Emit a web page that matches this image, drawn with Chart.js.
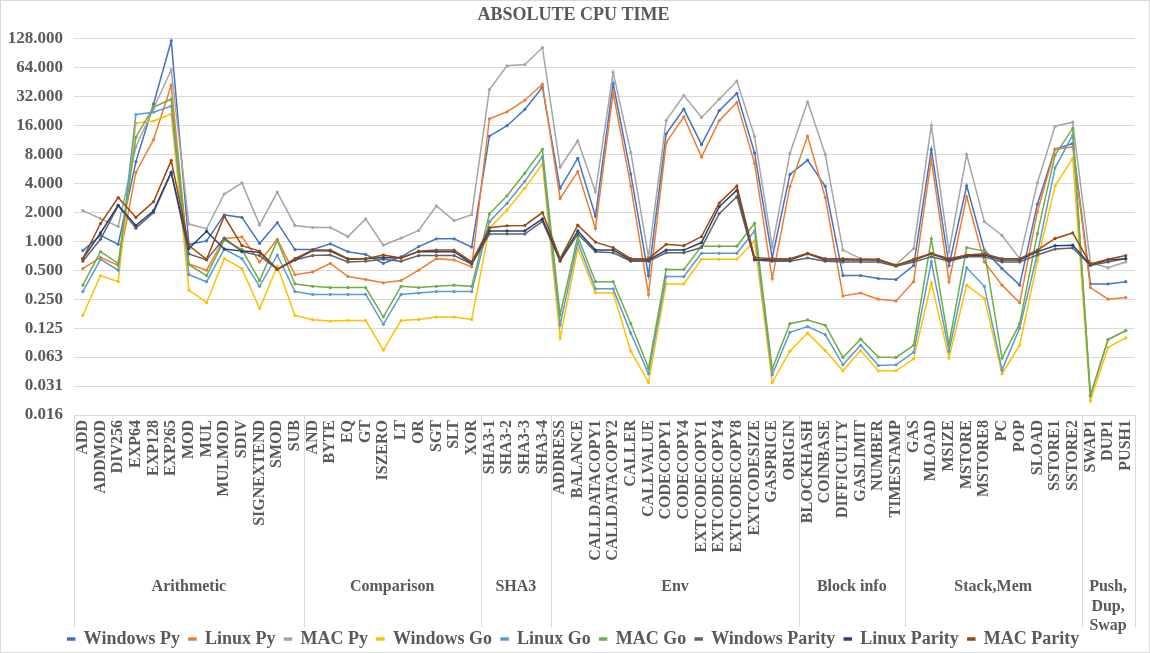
<!DOCTYPE html>
<html><head><meta charset="utf-8">
<script src="https://cdn.jsdelivr.net/npm/chart.js@4.4.0/dist/chart.umd.min.js"></script>
<style>html,body{margin:0;padding:0;background:#fff}#wrap{width:1150px;height:653px;position:relative}</style>
</head><body><div id="wrap"><canvas id="c"></canvas></div>
<script>
const categories = ['ADD','ADDMOD','DIV256','EXP64','EXP128','EXP265','MOD','MUL','MULMOD','SDIV','SIGNEXTEND','SMOD','SUB',
  'AND','BYTE','EQ','GT','ISZERO','LT','OR','SGT','SLT','XOR',
  'SHA3-1','SHA3-2','SHA3-3','SHA3-4',
  'ADDRESS','BALANCE','CALLDATACOPY1','CALLDATACOPY2','CALLER','CALLVALUE','CODECOPY1','CODECOPY4','EXTCODECOPY1','EXTCODECOPY4','EXTCODECOPY8','EXTCODESIZE','GASPRICE','ORIGIN',
  'BLOCKHASH','COINBASE','DIFFICULTY','GASLIMIT','NUMBER','TIMESTAMP',
  'GAS','MLOAD','MSIZE','MSTORE','MSTORE8','PC','POP','SLOAD','SSTORE1','SSTORE2',
  'SWAP1','DUP1','PUSH1'];
const groupNames = ['Arithmetic','Comparison','SHA3','Env','Block info','Stack,Mem','Push,\nDup,\nSwap'];
const groupSizes = [13,10,4,14,6,10,3];
const yTickValues = [0.015625,0.03125,0.0625,0.125,0.25,0.5,1,2,4,8,16,32,64,128];
const yTickLabels = ['0.016','0.031','0.063','0.125','0.250','0.500','1.000','2.000','4.000','8.000','16.000','32.000','64.000','128.000'];
const seriesNames = ['Windows Py','Linux Py','MAC Py','Windows Go','Linux Go','MAC Go','Windows Parity','Linux Parity','MAC Parity'];

const windowsPy = [0.80,1.15,0.93,6.7,26.8,121,0.93,1.01,1.88,1.77,0.95,1.56,0.82,
  0.82,0.94,0.78,0.73,0.59,0.69,0.88,1.06,1.06,0.87,
  12.4,15.9,23.4,40,
  3.55,7.3,1.83,43.7,5.0,0.44,13.1,23.7,10.1,22.8,34.6,8.3,0.67,4.96,
  6.98,3.73,0.44,0.44,0.41,0.40,
  0.56,9.0,0.56,3.78,0.81,0.52,0.35,2.43,9.1,10.4,
  0.36,0.36,0.38];
const linuxPy = [0.52,0.68,0.56,5.2,11.4,42,0.58,0.50,1.07,1.11,0.61,1.05,0.45,
  0.48,0.59,0.43,0.40,0.37,0.39,0.50,0.66,0.64,0.54,
  18.8,22.2,29.3,43,
  2.79,5.3,1.36,35,3.75,0.28,10.6,19.7,7.5,17.9,27.8,6.45,0.41,3.7,
  12.4,2.85,0.27,0.29,0.25,0.24,
  0.38,7.1,0.38,2.9,0.61,0.35,0.23,2.03,9.0,9.6,
  0.33,0.25,0.26];
const macPy = [2.08,1.72,1.43,9.6,24,60.5,1.51,1.35,3.1,4.05,1.48,3.25,1.46,
  1.39,1.39,1.12,1.71,0.91,1.08,1.30,2.33,1.64,1.89,
  37.8,66.8,68.7,103,
  5.9,11.1,3.27,57,8.4,0.69,18.1,32.7,19.4,30,46.3,12.3,0.88,8.2,
  28.2,8.0,0.81,0.66,0.64,0.57,
  0.84,16,0.78,8.0,1.6,1.15,0.66,4.05,15.7,17.3,
  0.60,0.53,0.61];
const windowsGo = [0.17,0.44,0.38,16.9,17.8,21,0.31,0.23,0.66,0.52,0.20,0.55,0.17,
  0.153,0.148,0.15,0.15,0.074,0.15,0.154,0.163,0.163,0.154,
  1.37,2.11,3.55,6.35,
  0.099,0.84,0.29,0.29,0.072,0.034,0.36,0.36,0.65,0.65,0.65,1.01,0.034,0.072,
  0.111,0.073,0.045,0.073,0.045,0.045,
  0.060,0.37,0.061,0.35,0.255,0.042,0.083,0.62,3.78,7.3,
  0.022,0.079,0.099];
const linuxGo = [0.30,0.65,0.50,20.8,22,25.5,0.45,0.38,0.83,0.66,0.34,0.72,0.30,
  0.28,0.28,0.28,0.28,0.137,0.28,0.29,0.30,0.30,0.30,
  1.60,2.48,4.2,7.55,
  0.135,0.98,0.32,0.32,0.111,0.042,0.43,0.43,0.75,0.75,0.75,1.28,0.041,0.113,
  0.130,0.107,0.052,0.083,0.051,0.052,
  0.070,0.61,0.072,0.53,0.34,0.046,0.125,0.75,5.8,12.7,
  0.025,0.095,0.118];
const macGo = [0.35,0.78,0.59,12.1,24.8,30,0.57,0.44,1.03,0.82,0.39,1.02,0.36,
  0.34,0.33,0.33,0.33,0.164,0.34,0.33,0.34,0.35,0.34,
  1.93,2.97,5.1,9.05,
  0.172,1.12,0.38,0.38,0.139,0.048,0.51,0.51,0.89,0.89,0.89,1.54,0.047,0.139,
  0.152,0.134,0.062,0.096,0.0625,0.062,
  0.083,1.06,0.085,0.86,0.79,0.061,0.139,1.2,7.9,14.9,
  0.025,0.095,0.118];
const windowsParity = [0.62,1.05,2.35,1.37,1.99,5.2,0.74,0.64,1.08,0.78,0.71,0.51,0.64,
  0.71,0.72,0.61,0.62,0.65,0.62,0.71,0.71,0.71,0.58,
  1.19,1.19,1.19,1.61,
  0.62,1.19,0.78,0.76,0.62,0.62,0.76,0.76,0.86,1.94,2.91,0.64,0.62,0.62,
  0.67,0.62,0.61,0.61,0.61,0.55,
  0.61,0.69,0.62,0.69,0.69,0.61,0.61,0.72,0.83,0.85,
  0.56,0.61,0.66];
const linuxParity = [0.66,1.22,2.37,1.46,2.07,5.2,0.84,1.27,0.83,0.79,0.77,0.51,0.64,
  0.80,0.79,0.65,0.66,0.68,0.67,0.78,0.78,0.78,0.59,
  1.28,1.28,1.28,1.71,
  0.64,1.28,0.81,0.81,0.64,0.64,0.81,0.81,0.97,2.29,3.39,0.65,0.64,0.64,
  0.74,0.64,0.64,0.64,0.64,0.56,
  0.64,0.74,0.64,0.71,0.72,0.64,0.64,0.78,0.90,0.91,
  0.57,0.64,0.66];
const macParity = [0.66,1.53,2.85,1.77,2.58,6.9,0.90,0.65,1.82,0.90,0.79,0.51,0.66,
  0.81,0.81,0.66,0.66,0.72,0.67,0.79,0.81,0.81,0.61,
  1.38,1.45,1.46,1.99,
  0.66,1.47,0.98,0.86,0.66,0.66,0.93,0.90,1.12,2.50,3.76,0.68,0.66,0.66,
  0.75,0.66,0.66,0.65,0.65,0.56,
  0.65,0.75,0.66,0.72,0.74,0.66,0.66,0.81,1.07,1.22,
  0.58,0.65,0.71];

const seriesData = [windowsPy,linuxPy,macPy,windowsGo,linuxGo,macGo,windowsParity,linuxParity,macParity];
const seriesColors = ['#4472C4','#ED7D31','#A5A5A5','#FFC000','#5B9BD5','#70AD47','#636363','#264478','#9E480E'];
const FONT = '"Liberation Serif", "Times New Roman", serif';
const TEXT = '#595959';

const groupPlugin = {
  id: 'groups',
  afterDraw(chart) {
    const {ctx, chartArea, scales} = chart;
    const x = scales.x;
    ctx.save();
    ctx.strokeStyle = '#D9D9D9';
    ctx.lineWidth = 1;
    const top = chartArea.bottom, bottom = 627;
    const bounds = [chartArea.left];
    let start = 0;
    groupSizes.forEach(n => {
      start += n;
      bounds.push(start < categories.length ? (x.getPixelForTick(start - 1) + x.getPixelForTick(start)) / 2 : chartArea.right);
    });
    bounds.forEach(b => {
      const px = Math.round(b) + 0.5;
      ctx.beginPath(); ctx.moveTo(px, top); ctx.lineTo(px, bottom); ctx.stroke();
    });
    ctx.fillStyle = TEXT;
    ctx.font = 'bold 16px ' + FONT;
    ctx.textAlign = 'center';
    ctx.textBaseline = 'middle';
    groupNames.forEach((name, g) => {
      const cx = (bounds[g] + bounds[g + 1]) / 2;
      name.split('\n').forEach((ln, k) => ctx.fillText(ln, cx, 587 + k * 19.5));
    });
    ctx.strokeRect(0.5, 0.5, chart.width - 1, chart.height - 1);
    ctx.restore();
  }
};

new Chart(document.getElementById('c'), {
  type: 'line',
  data: {
    labels: categories,
    datasets: seriesNames.map((name, i) => ({
      label: name,
      data: seriesData[i],
      borderColor: seriesColors[i],
      backgroundColor: seriesColors[i],
      pointBackgroundColor: seriesColors[i],
      pointBorderColor: seriesColors[i],
      borderWidth: 1.5,
      pointRadius: 1.6,
      pointBorderWidth: 0,
      tension: 0,
      order: 9 - i
    }))
  },
  options: {
    responsive: true,
    maintainAspectRatio: false,
    animation: false,
    layout: {padding: {left: 0, right: 3, top: 0, bottom: -5}},
    plugins: {
      title: {display: true, text: 'ABSOLUTE CPU TIME', color: TEXT,
        font: {family: FONT, size: 18, weight: 'bold'}, padding: {top: 5, bottom: 12}},
      legend: {position: 'bottom',
        labels: {boxWidth: 7, boxHeight: 2, padding: 9, color: TEXT,
          font: {family: FONT, size: 18, weight: 'bold'},
          sort: (a, b) => a.datasetIndex - b.datasetIndex}},
      tooltip: {enabled: false}
    },
    scales: {
      x: {
        type: 'category',
        offset: true,
        grid: {display: false, drawTicks: false},
        border: {display: false},
        ticks: {autoSkip: false, minRotation: 90, maxRotation: 90, padding: 5, color: TEXT,
          font: {family: FONT, size: 16, weight: 'bold'}},
        afterFit: s => { s.height = 206; }
      },
      y: {
        type: 'logarithmic',
        min: yTickValues[0],
        max: yTickValues[yTickValues.length - 1],
        grid: {color: '#D9D9D9', drawTicks: false},
        border: {display: false},
        ticks: {padding: 11, color: TEXT, font: {family: FONT, size: 17, weight: 'bold'},
          callback: (v, i) => yTickLabels[i]},
        afterBuildTicks: s => { s.ticks = yTickValues.map(v => ({value: v})); },
        afterFit: s => { s.width = 74; }
      }
    }
  },
  plugins: [groupPlugin]
});
</script>
</body></html>
